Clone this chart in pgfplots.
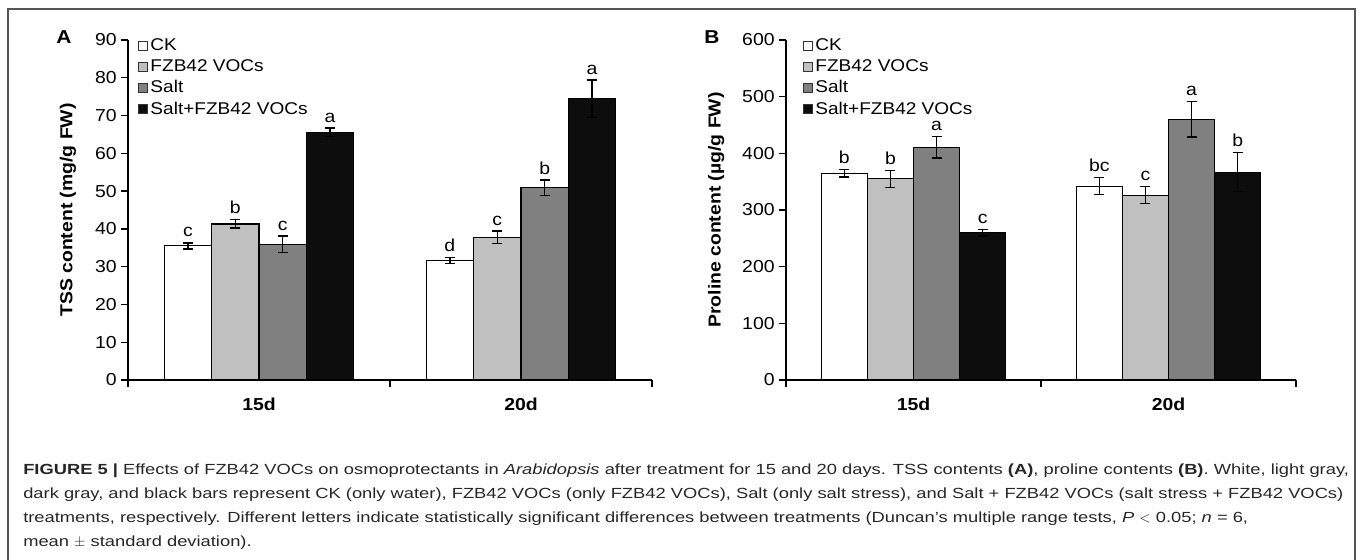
\documentclass[border=0pt]{standalone}
\usepackage{fontspec}
\setmainfont{Liberation Sans}[FakeStretch=1.12]
\newfontfamily\capfont{Liberation Sans}[FakeStretch=1.25]
\usepackage{pgfplots}
\pgfplotsset{compat=1.18}
\definecolor{lg}{HTML}{C0C0C0}
\definecolor{dg}{HTML}{808080}
\definecolor{bk}{HTML}{0D0D0D}
\definecolor{framec}{HTML}{555555}
\newcommand{\chartfont}{\fontsize{13}{15}\selectfont}
\newcommand{\cf}{\capfont\fontsize{11}{13}\selectfont}
\tikzset{lett/.style={anchor=base, yshift=4.5pt, font=\chartfont, inner sep=0pt}}
\pgfplotsset{
 mybars/.style={
   scale only axis, anchor=south west,
   height=255pt,
   xmin=-0.5, xmax=1.5, ymin=0,
   axis lines*=left,
   axis line style={line width=1pt, black},
   xtick={0,1}, xticklabels={15d,20d},
   xticklabel style={font=\bfseries\chartfont, yshift=-5pt},
   major x tick style={draw=none},
   minor xtick={-0.5,0.5,1.5},
   tick align=outside,
   tick style={black, line width=1pt},
   major tick length=5pt, minor tick length=5pt,
   yticklabel style={font=\chartfont},
   /pgf/number format/assume math mode=true,
   ylabel style={font=\bfseries\chartfont},
   ybar, bar width=0.181,
   legend cell align=left,
   legend style={draw=none, fill=none, font=\fontsize{12.75}{15.75}\selectfont, inner sep=0pt, row sep=1.2pt, anchor=north west},
   legend image code/.code={\draw[#1, draw=black!80, line width=0.6pt] (0pt,-3.3pt) rectangle (6.6pt,3.3pt);},
   error bars/y dir=both, error bars/y explicit,
   error bars/error bar style={line width=1pt, black},
   error bars/error mark options={rotate=90, mark size=3.75pt, line width=1pt, black},
   every axis plot/.append style={draw=black, line width=0.8pt},
   clip=false,
 },
}
\begin{document}
\begin{tikzpicture}
\path[use as bounding box] (0pt,0pt) rectangle (1017.75pt,-420pt);
\begin{scope}[x=0.75pt, y=0.75pt]
\draw[framec, line width=1.5pt] (8,-561) -- (8,-9) -- (1355,-9) -- (1355,-561);
\node[font=\bfseries\fontsize{14}{16}\selectfont] at (64,-37) {A};
\node[font=\bfseries\fontsize{14}{16}\selectfont] at (712,-37) {B};
\node[anchor=base west, inner sep=0pt, text=black!85] at (23,-474) {\cf\textbf{FIGURE 5 |} Effects of FZB42 VOCs on osmoprotectants in \textit{Arabidopsis} after treatment for 15 and 20 days. TSS contents \textbf{(A)}, proline contents \textbf{(B)}. White, light gray,};
\node[anchor=base west, inner sep=0pt, text=black!85] at (23,-498) {\cf dark gray, and black bars represent CK (only water), FZB42 VOCs (only FZB42 VOCs), Salt (only salt stress), and Salt + FZB42 VOCs (salt stress + FZB42 VOCs)};
\node[anchor=base west, inner sep=0pt, text=black!85] at (23,-522) {\cf treatments, respectively. Different letters indicate statistically significant differences between treatments (Duncan’s multiple range tests, \textit{P} $<$ 0.05; \textit{n} = 6,};
\node[anchor=base west, inner sep=0pt, text=black!85] at (23,-546) {\cf mean $\pm$ standard deviation).};
\end{scope}

% Panel A
\begin{axis}[mybars, at={(96pt,-285pt)}, width=393pt,
  ymax=90, ytick={0,10,...,90},
  ylabel={TSS content (mg/g FW)},
  ylabel style={at={(axis description cs:-0.1145,0.5)}, anchor=center},
  legend style={at={(axis description cs:0.019,1.012)}}]
\addplot[fill=white, bar shift=-0.2715] coordinates {(0,35.5) +- (0,0.8) (1,31.7) +- (0,0.8)};
\addplot[fill=lg, bar shift=-0.0905] coordinates {(0,41.3) +- (0,1.1) (1,37.8) +- (0,1.6)};
\addplot[fill=dg, bar shift=0.0905] coordinates {(0,35.9) +- (0,2.2) (1,50.9) +- (0,2.0)};
\addplot[fill=bk, bar shift=0.2715] coordinates {(0,65.6) +- (0,1.1) (1,74.4) +- (0,5.0)};
\legend{CK, FZB42 VOCs, Salt, Salt+FZB42 VOCs}
\node[lett] at (axis cs:-0.2715,36.3) {c};
\node[lett] at (axis cs:-0.0905,42.4) {b};
\node[lett] at (axis cs:0.0905,38.1) {c};
\node[lett] at (axis cs:0.2715,66.7) {a};
\node[lett] at (axis cs:0.7285,32.5) {d};
\node[lett] at (axis cs:0.9095,39.4) {c};
\node[lett] at (axis cs:1.0905,52.9) {b};
\node[lett] at (axis cs:1.2715,79.4) {a};
\end{axis}

% Panel B
\begin{axis}[mybars, at={(589.5pt,-285pt)}, width=382.5pt,
  ymax=600, ytick={0,100,...,600},
  ylabel={Proline content (µg/g FW)},
  ylabel style={at={(axis description cs:-0.137,0.5)}, anchor=center},
  legend style={at={(axis description cs:0.033,1.012)}}]
\addplot[fill=white, bar shift=-0.2715] coordinates {(0,365) +- (0,7) (1,342) +- (0,15)};
\addplot[fill=lg, bar shift=-0.0905] coordinates {(0,355) +- (0,15) (1,326) +- (0,15)};
\addplot[fill=dg, bar shift=0.0905] coordinates {(0,411) +- (0,19) (1,460) +- (0,31)};
\addplot[fill=bk, bar shift=0.2715] coordinates {(0,260) +- (0,6) (1,367) +- (0,34)};
\legend{CK, FZB42 VOCs, Salt, Salt+FZB42 VOCs}
\node[lett] at (axis cs:-0.2715,372) {b};
\node[lett] at (axis cs:-0.0905,370) {b};
\node[lett] at (axis cs:0.0905,430) {a};
\node[lett] at (axis cs:0.2715,266) {c};
\node[lett] at (axis cs:0.7285,357) {bc};
\node[lett] at (axis cs:0.9095,341) {c};
\node[lett] at (axis cs:1.0905,491) {a};
\node[lett] at (axis cs:1.2715,401) {b};
\end{axis}
\end{tikzpicture}
\end{document}
